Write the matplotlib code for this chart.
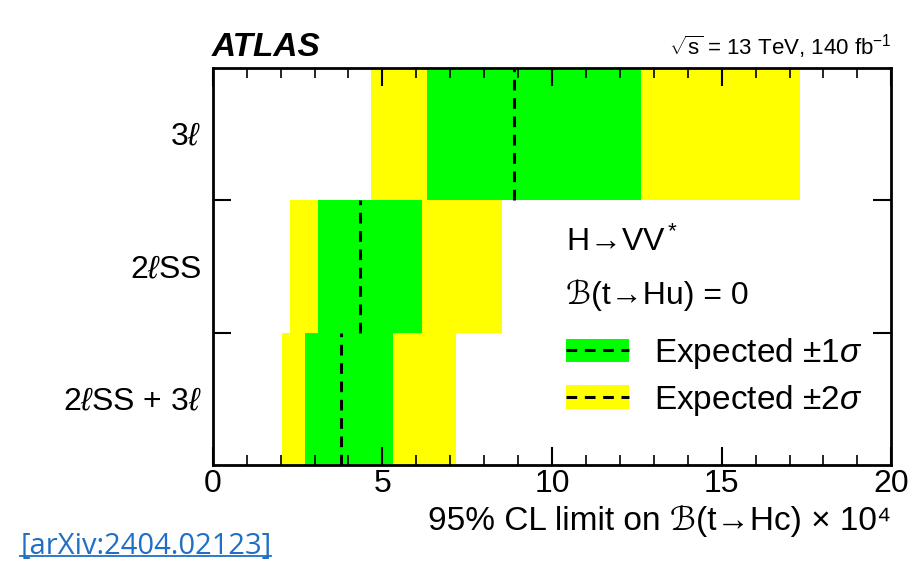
import numpy as np
import matplotlib.pyplot as plt
from matplotlib.patches import Patch
from matplotlib.lines import Line2D
from matplotlib.legend_handler import HandlerTuple

plt.rcParams['font.family'] = ['Liberation Sans', 'DejaVu Sans']
plt.rcParams['mathtext.fontset'] = 'custom'
plt.rcParams['mathtext.rm'] = 'Liberation Sans'
plt.rcParams['mathtext.it'] = 'Liberation Sans:italic'
plt.rcParams['mathtext.bf'] = 'Liberation Sans:bold'

# kanaly (od gory do dolu)
kanaly = ['3$\\ell$', '2$\\ell$SS', '2$\\ell$SS + 3$\\ell$']
mediana = [8.88, 4.34, 3.79]
m1s = [6.31, 3.10, 2.71]
p1s = [12.63, 6.18, 5.32]
m2s = [4.65, 2.28, 2.03]
p2s = [17.30, 8.53, 7.16]

ZIELONY = '#00ff00'
ZOLTY = '#ffff00'
KRESKI = (0, (3.5, 2.5))

fig = plt.figure(figsize=(9.17, 5.63), dpi=100)
ax = fig.add_axes([0.232, 0.174, 0.740, 0.705])

y = np.arange(len(kanaly))[::-1]
ax.barh(y, np.array(p2s) - np.array(m2s), left=m2s, height=1.0, color=ZOLTY, lw=0)
ax.barh(y, np.array(p1s) - np.array(m1s), left=m1s, height=1.0, color=ZIELONY, lw=0)
for i in range(len(kanaly)):
    ax.plot([mediana[i], mediana[i]], [y[i] - 0.5, y[i] + 0.5], color='black',
            lw=2.2, ls=KRESKI)

ax.set_xlim(0, 20)
ax.set_ylim(-0.5, 2.5)
ax.set_xticks([0, 5, 10, 15, 20])
ax.set_xticks(np.arange(0, 21, 1), minor=True)
ax.tick_params(axis='x', which='major', direction='in', length=13, width=1.5,
               top=True, labelsize=23, pad=3)
ax.tick_params(axis='x', which='minor', direction='in', length=7, width=1.2, top=True)
ax.set_yticks([0.5, 1.5])
ax.set_yticklabels([])
ax.tick_params(axis='y', which='major', direction='in', length=13, width=1.5, right=True)
ax.set_yticks(y, minor=True)
ax.set_yticklabels(kanaly, minor=True, fontsize=23)
ax.tick_params(axis='y', which='minor', length=0, pad=8)
for s in ax.spines.values():
    s.set_linewidth(2)

ax.set_xlabel('95% CL limit on ℬ(t→Hc) × 10⁴', fontsize=24, loc='right', labelpad=4)

fig.text(0.231, 0.900, 'ATLAS', fontsize=24, fontweight='bold', fontstyle='italic')
fig.text(0.972, 0.903, '$\\sqrt{\\mathrm{s}}$ = 13 TeV, 140 fb$^{-1}$', fontsize=16, ha='right')

ax.text(0.52, 0.562, 'H→VV$^*$', transform=ax.transAxes, fontsize=23, va='center')
ax.text(0.52, 0.428, 'ℬ(t→Hu) = 0', transform=ax.transAxes, fontsize=23, va='center')

linia = Line2D([], [], color='black', lw=2.2, ls=KRESKI)
uchwyty = [(Patch(color=ZIELONY, lw=0), linia), (Patch(color=ZOLTY, lw=0), linia)]
ax.legend(uchwyty, ['Expected $\\pm1\\sigma$', 'Expected $\\pm2\\sigma$'],
          handler_map={tuple: HandlerTuple(ndivide=1, pad=0)},
          loc='center left', bbox_to_anchor=(0.52, 0.222), frameon=False,
          fontsize=24, handlelength=1.9, handleheight=0.7, handletextpad=0.75,
          labelspacing=0.35, borderpad=0, borderaxespad=0)

arxiv = fig.text(0.022, 0.016, '[arXiv:2404.02123]', fontsize=21, color='#1f6fc5',
                 family=['Open Sans', 'DejaVu Sans'])
fig.canvas.draw()
bb = arxiv.get_window_extent().transformed(fig.transFigure.inverted())
fig.add_artist(Line2D([bb.x0, bb.x1], [0.012, 0.012], color='#1f6fc5', lw=1.3))

plt.savefig('out.png', dpi=100)
